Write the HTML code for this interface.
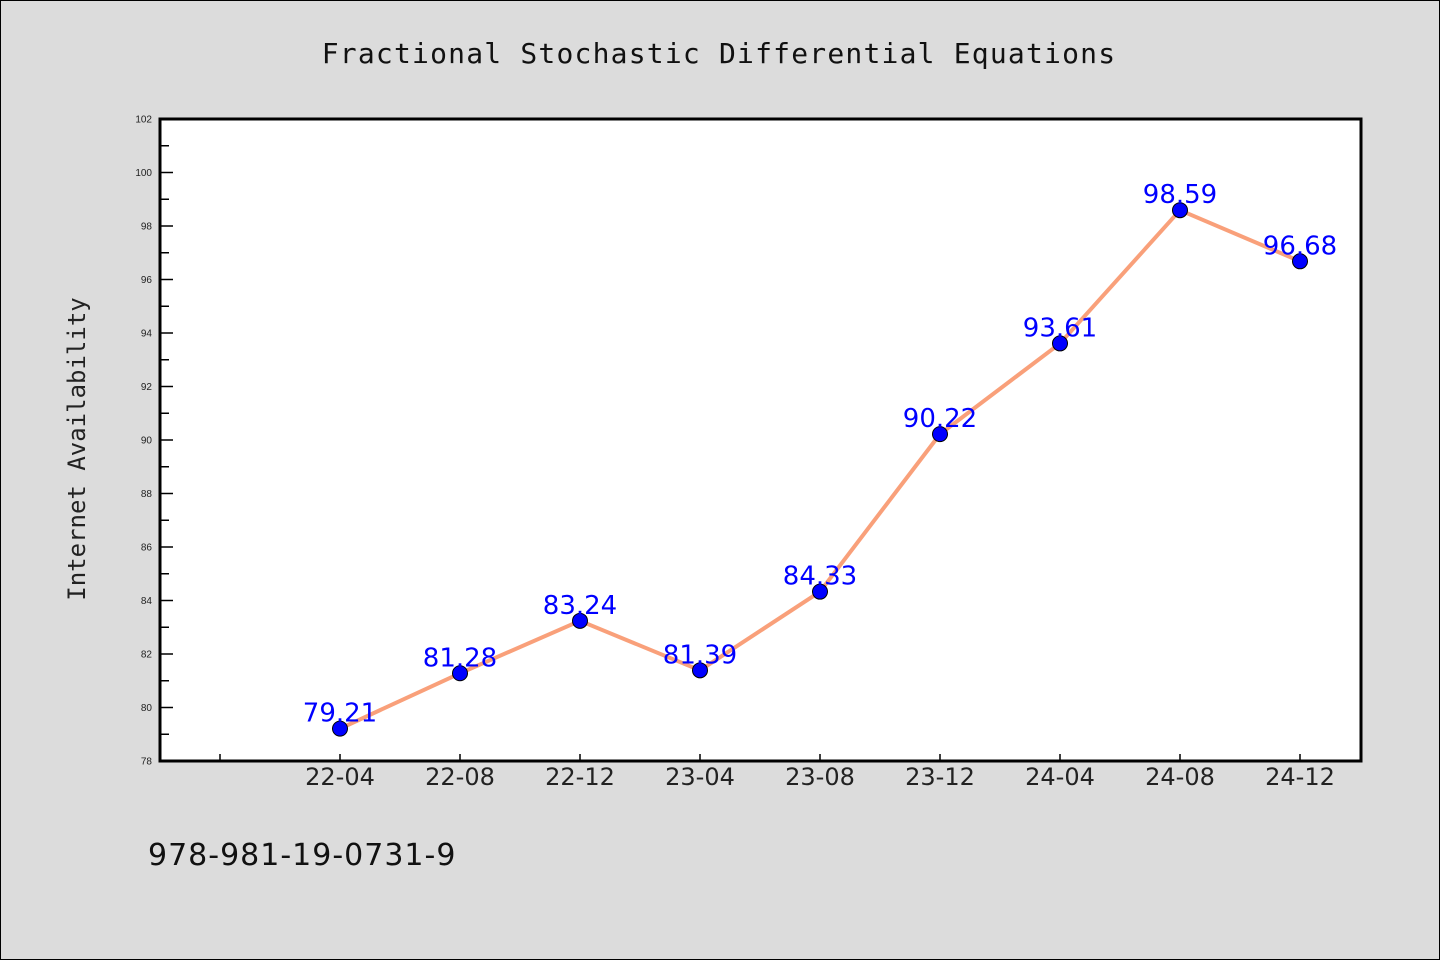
<!DOCTYPE html>
<html><head><meta charset="utf-8"><style>
body{margin:0;background:#dcdcdc;}
svg{display:block;font-family:"Liberation Sans","DejaVu Sans",sans-serif;}
</style></head><body>
<svg id="chart" width="1440" height="960" xmlns="http://www.w3.org/2000/svg">
<rect x="0.5" y="0.5" width="1439" height="959" fill="#dcdcdc" stroke="#000" stroke-width="1"/>
<text x="719" y="63" text-anchor="middle" font-size="28" letter-spacing="1.2" font-family="DejaVu Sans Mono, Liberation Mono, monospace" fill="#111">Fractional Stochastic Differential Equations</text>
<rect x="160" y="119" width="1201" height="642" fill="#fff"/>
<g id="axes"></g>
<g id="marks"></g>
<rect x="160" y="119" width="1201" height="642" fill="none" stroke="#000" stroke-width="3"/>
<text transform="translate(85,449) rotate(-90)" text-anchor="middle" font-size="24" font-family="DejaVu Sans Mono, Liberation Mono, monospace" fill="#222">Internet Availability</text>
<text x="148" y="865" font-size="30" letter-spacing="1" font-family="DejaVu Sans, sans-serif" fill="#111">978-981-19-0731-9</text>
</svg>
<script>
const categories=["22-04","22-08","22-12","23-04","23-08","23-12","24-04","24-08","24-12"];
const values=[79.21,81.28,83.24,81.39,84.33,90.22,93.61,98.59,96.68];
const labels=["79.21","81.28","83.24","81.39","84.33","90.22","93.61","98.59","96.68"];
const yTicks=[78,80,82,84,86,88,90,92,94,96,98,100,102];
const NS="http://www.w3.org/2000/svg";
const yMin=78,yMax=102,plotTop=119,plotBottom=761;
function y(v){return plotBottom-(v-yMin)/(yMax-yMin)*(plotBottom-plotTop);}
function x(i){return 340+120*i;}
function mk(tag,attrs,parent){const e=document.createElementNS(NS,tag);for(const k in attrs)e.setAttribute(k,attrs[k]);parent.appendChild(e);return e;}
const axes=document.getElementById('axes'),marks=document.getElementById('marks');
yTicks.forEach(t=>{
 const l=mk('line',{x1:160,x2:173,y1:y(t),y2:y(t),stroke:'#000','stroke-width':1.5},axes);
 
 
 const tx=mk('text',{x:152,y:y(t)+3.5,'text-anchor':'end','font-size':10,fill:'#222'},axes);
 
 
 tx.textContent=t;
 if(t<yMax){const m=mk('line',{x1:160,x2:169,y1:y(t+1),y2:y(t+1),stroke:'#000','stroke-width':1.5},axes);
 
 }
});
for(let i=-1;i<categories.length;i++){
 const l=mk('line',{x1:x(i),x2:x(i),y1:plotBottom,y2:plotBottom-7,stroke:'#000','stroke-width':1.5},axes);
 
 
 if(i>=0){const tx=mk('text',{x:x(i),y:785,'text-anchor':'middle','font-size':24,'font-family':'DejaVu Sans, sans-serif',fill:'#222'},axes);
 
 
 tx.textContent=categories[i];}
}
const pl=mk('polyline',{points:values.map((v,i)=>x(i)+','+y(v)).join(' '),fill:'none',stroke:'#f9a07a','stroke-width':4,'stroke-linejoin':'round'},marks);


values.forEach((v,i)=>{
 const c=mk('circle',{cx:x(i),cy:y(v),r:7.5,fill:'#0000ff',stroke:'#000','stroke-width':1},marks);
 
 
 const t=mk('text',{x:x(i),y:y(v)-7,'text-anchor':'middle','font-size':26,'font-family':'DejaVu Sans, sans-serif',fill:'#0000ff'},marks);
 
 
 t.textContent=labels[i];
});
</script>
</body></html>
